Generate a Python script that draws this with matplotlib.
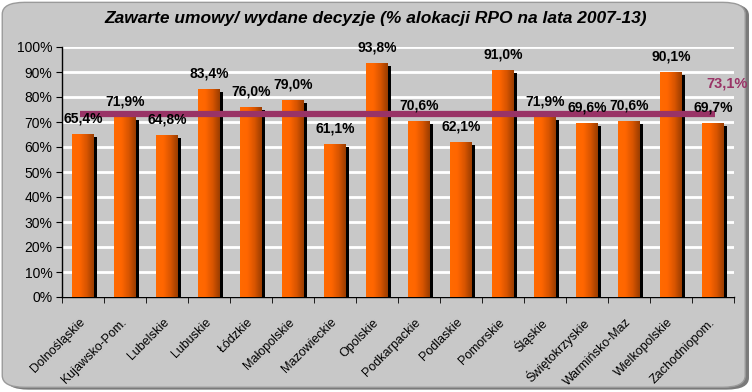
import matplotlib
matplotlib.use("Agg")
import matplotlib.pyplot as plt
import numpy as np
from matplotlib.patches import FancyBboxPatch, Rectangle
from matplotlib.colors import LinearSegmentedColormap
from matplotlib.ticker import FixedLocator, NullFormatter

categories = ["Dolnośląskie", "Kujawsko-Pom.", "Lubelskie", "Lubuskie", "Łódzkie",
              "Małopolskie", "Mazowieckie", "Opolskie", "Podkarpackie", "Podlaskie",
              "Pomorskie", "Śląskie", "Świętokrzyskie", "Warmińsko-Maz", "Wielkopolskie",
              "Zachodniopom."]
values = [65.4, 71.9, 64.8, 83.4, 76.0, 79.0, 61.1, 93.8, 70.6, 62.1, 91.0, 71.9,
          69.6, 70.6, 90.1, 69.7]
mean_value = 73.1
yticks = [0, 10, 20, 30, 40, 50, 60, 70, 80, 90, 100]
title = "Zawarte umowy/ wydane decyzje (% alokacji RPO na lata 2007-13)"

plt.rcParams['font.family'] = ['Liberation Sans', 'DejaVu Sans']

BG = "#C8C8C8"
fig = plt.figure(figsize=(7.52, 3.92), dpi=100)
fig.patch.set_facecolor("white")

# rounded frame with shadow
shadow = FancyBboxPatch((0.008, 0.006), 0.988, 0.985, boxstyle="round,pad=0,rounding_size=0.03",
                        transform=fig.transFigure, facecolor="#7a7a7a", edgecolor="none", zorder=-3)
frame = FancyBboxPatch((0.003, 0.012), 0.988, 0.982, boxstyle="round,pad=0,rounding_size=0.03",
                       transform=fig.transFigure, facecolor=BG, edgecolor="#9a9a9a", lw=1, zorder=-2)
fig.patches.extend([shadow, frame])

ax = fig.add_axes([62/752, 1-297/392, (734-62)/752, 250/392])
ax.set_facecolor(BG)
ax.patch.set_alpha(0)
n = len(values)
x = np.arange(n)
ax.set_xlim(-0.5, n - 0.5)
ax.set_ylim(0, 100)

for s in ["top", "right"]:
    ax.spines[s].set_visible(False)
ax.spines["left"].set_color("black")
ax.spines["bottom"].set_color("black")
ax.spines["left"].set_linewidth(1)
ax.spines["bottom"].set_linewidth(1)

ax.set_yticks(yticks)
ax.set_yticklabels([f"{t}%" for t in yticks], fontsize=10)
ax.yaxis.grid(True, color="white", lw=2)
ax.set_axisbelow(True)
ax.tick_params(axis="y", length=4, pad=3, color="black")

ax.set_xticks(x)
ax.set_xticklabels(categories, rotation=45, ha="right", va="center",
                   rotation_mode="anchor", fontsize=9)
ax.tick_params(axis="x", which="major", length=0, pad=17)
ax.xaxis.set_minor_locator(FixedLocator(np.arange(-0.5, n, 1.0)))
ax.xaxis.set_minor_formatter(NullFormatter())
ax.tick_params(axis="x", which="minor", length=4, color="black")

bw = 0.52
dx = 3/42
dy = 1.2
cmap = LinearSegmentedColormap.from_list("org", ["#FF6A00", "#FF6600", "#D95500", "#9A3D00"])
grad = np.linspace(0, 1, 64).reshape(1, -1)
for xi, v in zip(x, values):
    sh = Rectangle((xi - bw/2 + dx, 0), bw, v - dy, facecolor="black", edgecolor="none", zorder=2)
    ax.add_patch(sh)
    r = Rectangle((xi - bw/2, 0), bw, v, facecolor="none", edgecolor="none", zorder=3)
    ax.add_patch(r)
    im = ax.imshow(grad, cmap=cmap, aspect="auto", extent=(xi - bw/2, xi + bw/2, 0, v),
                   zorder=3, interpolation="bilinear")
    im.set_clip_path(r)
    ax.annotate(f"{v:.1f}%".replace(".", ","), (xi, v), xytext=(0, 6), textcoords="offset points",
                ha="center", va="bottom", fontsize=10, fontweight="bold", color="black", zorder=6)

ax.set_xlim(-0.5, n - 0.5)
ax.set_ylim(0, 100)

ax.plot([-0.07, 15.05], [mean_value, mean_value], color="#993366", lw=4.5,
        solid_capstyle="butt", zorder=5)
ax.text(15.33, mean_value + 12.5, f"{mean_value:.1f}%".replace(".", ","), color="#993366",
        fontsize=10.5, fontweight="bold", ha="center", va="center", clip_on=False, zorder=6)

fig.text(0.5, 1 - 19/392, title, ha="center", va="center", fontsize=12.5,
         fontweight="bold", style="italic")

fig.savefig("out.png", dpi=100, facecolor=fig.get_facecolor())
